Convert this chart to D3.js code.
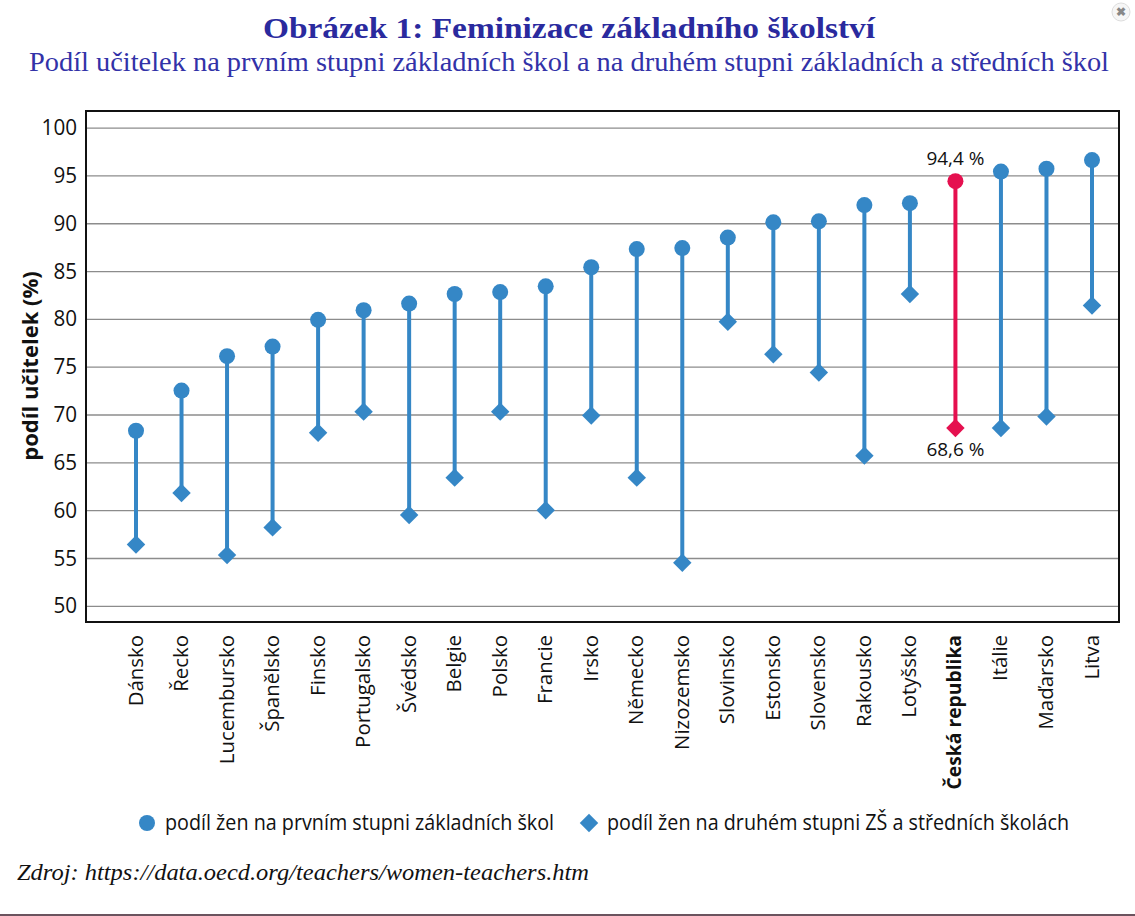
<!DOCTYPE html>
<html lang="cs"><head><meta charset="utf-8">
<script src="https://cdn.jsdelivr.net/npm/d3@7/dist/d3.min.js"></script>
<style>html,body{margin:0;background:#fff;overflow:hidden}svg{display:block}</style></head><body>
<script>
const categories=["Dánsko","Řecko","Lucembursko","Španělsko","Finsko","Portugalsko","Švédsko","Belgie","Polsko","Francie","Irsko","Německo","Nizozemsko","Slovinsko","Estonsko","Slovensko","Rakousko","Lotyšsko","Česká republika","Itálie","Maďarsko","Litva"];
const primary=[68.3,72.5,76.1,77.1,79.9,80.9,81.6,82.6,82.8,83.4,85.4,87.3,87.4,88.5,90.1,90.2,91.9,92.1,94.4,95.4,95.7,96.6];
const secondary=[56.4,61.8,55.3,58.2,68.1,70.3,59.5,63.4,70.3,60.0,69.9,63.4,54.5,79.7,76.3,74.4,65.7,82.6,68.6,68.6,69.8,81.4];
const yTicks=[50,55,60,65,70,75,80,85,90,95,100];
const highlight="Česká republika";
const labels=["94,4 %","68,6 %"];
const legendLabels=["podíl žen na prvním stupni základních škol","podíl žen na druhém stupni ZŠ a středních školách"];
const titleText="Obrázek 1: Feminizace základního školství";
const subtitleText="Podíl učitelek na prvním stupni základních škol a na druhém stupni základních a středních škol";
const sourceText="Zdroj: https://data.oecd.org/teachers/women-teachers.htm";
const yTitle="podíl učitelek (%)";

const W=1135,H=916,L=86,R=1119,T=111,B=622;
const blue="#3587c6",red="#e5104f",sans="'Open Sans','Noto Sans',sans-serif",serif="'Liberation Serif',serif";
const svg=d3.select("body").append("svg").attr("width",W).attr("height",H);
const y=d3.scaleLinear().domain([50,100]).range([605.8,127.6]);
const x=d3.scalePoint().domain(categories).range([136,1092]);

svg.append("text").attr("x",569).attr("y",38).attr("text-anchor","middle").attr("font-family",serif).attr("font-weight",700).attr("font-size",29).attr("fill","#2a2a9e").attr("textLength",612).attr("lengthAdjust","spacingAndGlyphs").text(titleText);
svg.append("text").attr("x",569).attr("y",71).attr("text-anchor","middle").attr("font-family",serif).attr("font-size",27).attr("fill","#3232a8").attr("textLength",1080).attr("lengthAdjust","spacingAndGlyphs").text(subtitleText);

// close button
const cb=svg.append("g").attr("transform","translate(1121,12)");
cb.append("circle").attr("r",9).attr("fill","#f6f6f6").attr("stroke","#dddddd");
cb.append("text").attr("text-anchor","middle").attr("y",4).attr("font-family",sans).attr("font-size",12).attr("font-weight",700).attr("fill","#888").text("✖");

const grid=svg.append("g").call(d3.axisLeft(y).tickValues(yTicks).tickSize(-(R-L)).tickPadding(9).tickFormat(d3.format("d"))).attr("transform",`translate(${L},0)`);
grid.select(".domain").remove();
grid.selectAll("line").attr("stroke","#8c8c8c").attr("stroke-width",1.3);
grid.selectAll("text").attr("font-family",sans).attr("font-size",22).attr("fill","#111").attr("lengthAdjust","spacingAndGlyphs").attr("textLength",d=>String(d).length*11.8);
svg.append("rect").attr("x",L).attr("y",T).attr("width",R-L).attr("height",B-T).attr("fill","none").attr("stroke","#111").attr("stroke-width",2);

const rows=categories.map((c,i)=>({c,p:primary[i],s:secondary[i]}));
const col=d=>d.c===highlight?red:blue;
svg.append("g").selectAll("line").data(rows).join("line").attr("x1",d=>x(d.c)).attr("x2",d=>x(d.c)).attr("y1",d=>y(d.p)).attr("y2",d=>y(d.s)).attr("stroke",col).attr("stroke-width",4);
svg.append("g").selectAll("circle").data(rows).join("circle").attr("cx",d=>x(d.c)).attr("cy",d=>y(d.p)).attr("r",8).attr("fill",col);
const diamond=d3.symbol().type(d3.symbolSquare).size(170);
svg.append("g").selectAll("path").data(rows).join("path").attr("d",diamond).attr("transform",d=>`translate(${x(d.c)},${y(d.s)}) rotate(45)`).attr("fill",col);

svg.append("text").attr("x",x(highlight)).attr("y",y(94.4)-16).attr("text-anchor","middle").attr("font-family",sans).attr("font-size",18.5).attr("fill","#111").attr("textLength",58).attr("lengthAdjust","spacingAndGlyphs").text(labels[0]);
svg.append("text").attr("x",x(highlight)).attr("y",y(68.6)+28).attr("text-anchor","middle").attr("font-family",sans).attr("font-size",18.5).attr("fill","#111").attr("textLength",58).attr("lengthAdjust","spacingAndGlyphs").text(labels[1]);

const xl=svg.append("g").attr("transform",`translate(0,${B})`).call(d3.axisBottom(x).tickSize(0).tickFormat(d=>d));
xl.select(".domain").remove();
xl.selectAll("text").attr("font-family",sans).attr("font-size",d=>d===highlight?19.3:20.4).attr("fill","#111").attr("text-anchor","end").attr("dy",null).attr("dominant-baseline","central").attr("transform","translate(-2,0) rotate(-90)").attr("x",-13).attr("y",0).attr("font-weight",d=>d===highlight?700:400);

svg.append("text").attr("transform","translate(38,366) rotate(-90)").attr("text-anchor","middle").attr("font-family",sans).attr("font-weight",700).attr("font-size",22).attr("fill","#111").text(yTitle);

svg.append("circle").attr("cx",147).attr("cy",823).attr("r",8).attr("fill",blue);
svg.append("text").attr("x",165).attr("y",830).attr("font-family",sans).attr("font-size",21).attr("fill","#111").attr("textLength",389).attr("lengthAdjust","spacingAndGlyphs").text(legendLabels[0]);
svg.append("path").attr("d",diamond).attr("transform","translate(589,823) rotate(45)").attr("fill",blue);
svg.append("text").attr("x",607).attr("y",830).attr("font-family",sans).attr("font-size",21).attr("fill","#111").attr("textLength",462).attr("lengthAdjust","spacingAndGlyphs").text(legendLabels[1]);

svg.append("text").attr("x",17).attr("y",880).attr("font-family",serif).attr("font-style","italic").attr("font-size",24).attr("fill","#111").attr("textLength",572).attr("lengthAdjust","spacingAndGlyphs").text(sourceText);
svg.append("line").attr("x1",0).attr("x2",W).attr("y1",915).attr("y2",915).attr("stroke","#3a1a28").attr("stroke-width",1.5);
</script></body></html>
